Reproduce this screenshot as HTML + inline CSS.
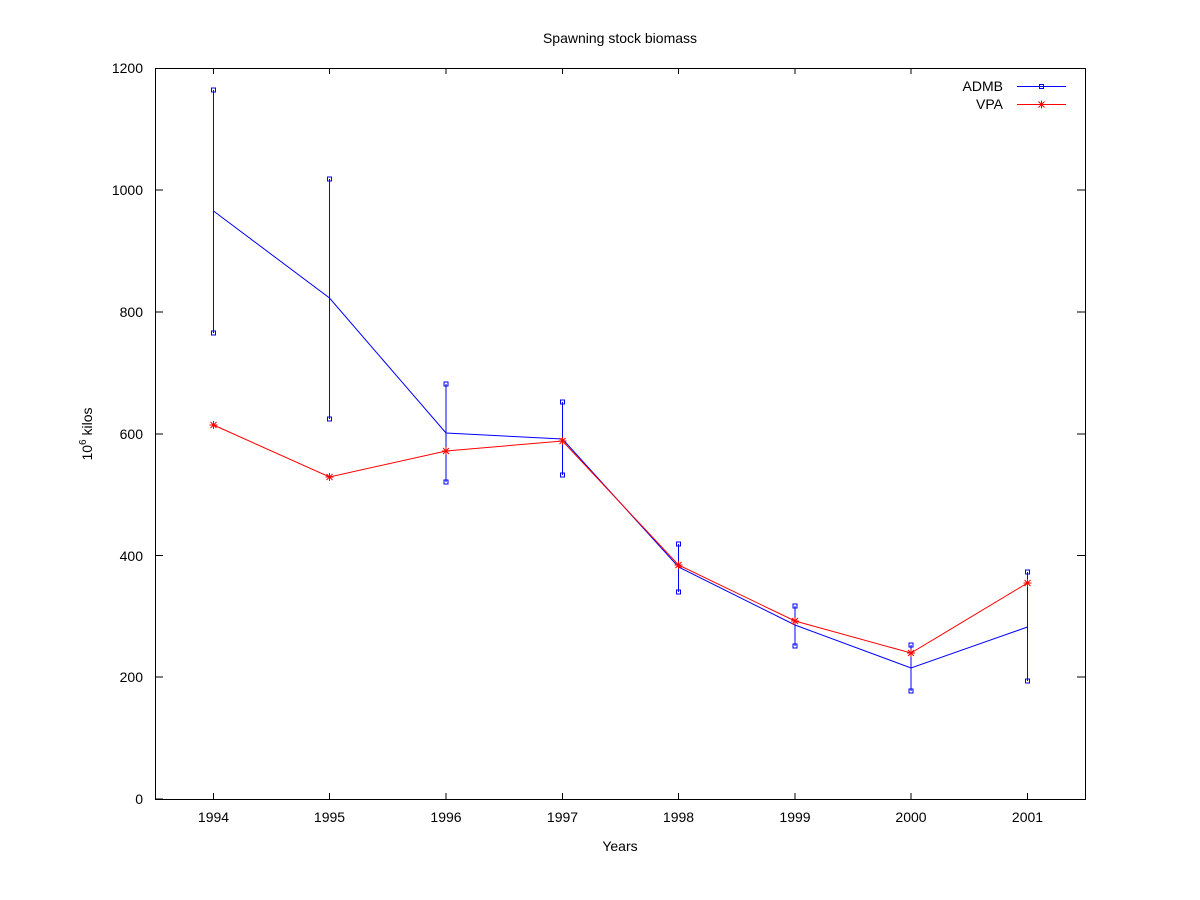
<!DOCTYPE html>
<html><head><meta charset="utf-8"><style>body{margin:0;background:#fff}svg{display:block}text{font-family:"Liberation Sans",sans-serif;font-size:14px;fill:#000}</style></head><body>
<svg width="1200" height="900" viewBox="0 0 1200 900">
<rect x="155.5" y="68.5" width="930" height="731" fill="none" stroke="#000"/>
<g stroke="#000">
<path d="M155 799h8M155 677h8M155 555.5h8M155 434h8M155 312h8M155 190h8M155 68.5h8M1085 677h-8M1085 555.5h-8M1085 434h-8M1085 312h-8M1085 190h-8"/>
<path d="M213.5 799v-6M329.5 799v-6M446 799v-6M562.5 799v-6M678.5 799v-6M795 799v-6M911 799v-6M1027.5 799v-6M213.5 68v6M329.5 68v6M446 68v6M562.5 68v6M678.5 68v6M795 68v6M911 68v6"/>
</g>
<g text-anchor="end">
<text x="143" y="804">0</text><text x="143" y="682">200</text><text x="143" y="561">400</text><text x="143" y="439">600</text><text x="143" y="317">800</text><text x="143" y="195">1000</text><text x="143" y="73">1200</text>
</g>
<g text-anchor="middle">
<text x="213.5" y="822">1994</text><text x="329.5" y="822">1995</text><text x="446" y="822">1996</text><text x="562.5" y="822">1997</text><text x="678.5" y="822">1998</text><text x="795" y="822">1999</text><text x="911" y="822">2000</text><text x="1027.5" y="822">2001</text>
<text x="620" y="851">Years</text>
<text x="620" y="43">Spawning stock biomass</text>
</g>
<text transform="translate(92,434) rotate(-90)" text-anchor="middle">10<tspan dy="-6" font-size="10">6</tspan><tspan dy="6"> kilos</tspan></text>
<g stroke="#00f" fill="none">
<path d="M213.5 90v243M329.5 179v240M446 384v98M562.5 402v73M678.5 544v48M795 606v40M911 645v46M1027.5 572v109"/>
<polyline points="213.5,211 329.5,298 446,433 562.5,439 678.5,567 795,625 911,668 1027.5,627"/>
<g>
<rect x="211.5" y="88" width="4" height="4"/><rect x="211.5" y="331" width="4" height="4"/>
<rect x="327.5" y="177" width="4" height="4"/><rect x="327.5" y="417" width="4" height="4"/>
<rect x="444" y="382" width="4" height="4"/><rect x="444" y="480" width="4" height="4"/>
<rect x="560.5" y="400" width="4" height="4"/><rect x="560.5" y="473" width="4" height="4"/>
<rect x="676.5" y="542" width="4" height="4"/><rect x="676.5" y="590" width="4" height="4"/>
<rect x="793" y="604" width="4" height="4"/><rect x="793" y="644" width="4" height="4"/>
<rect x="909" y="643" width="4" height="4"/><rect x="909" y="689" width="4" height="4"/>
<rect x="1025.5" y="570" width="4" height="4"/><rect x="1025.5" y="679" width="4" height="4"/>
</g>
<path d="M1017 86.5h49"/><rect x="1039.5" y="84.5" width="4" height="4"/>
</g>
<g stroke="#f00" fill="none">
<polyline points="213.5,425 329.5,477 446,451 562.5,441 678.5,565 795,621 911,653 1027.5,583"/>
<path d="M1017 104.5h49"/>
</g>
<g stroke="#f00" id="ast">
<path d="M209.5 425h8M213.5 421v8M210.5 422l6 6M216.5 422l-6 6"/>
<path d="M325.5 477h8M329.5 473v8M326.5 474l6 6M332.5 474l-6 6"/>
<path d="M442 451h8M446 447v8M443 448l6 6M449 448l-6 6"/>
<path d="M558.5 441h8M562.5 437v8M559.5 438l6 6M565.5 438l-6 6"/>
<path d="M674.5 565h8M678.5 561v8M675.5 562l6 6M681.5 562l-6 6"/>
<path d="M791 621h8M795 617v8M792 618l6 6M798 618l-6 6"/>
<path d="M907 653h8M911 649v8M908 650l6 6M914 650l-6 6"/>
<path d="M1023.5 583h8M1027.5 579v8M1024.5 580l6 6M1030.5 580l-6 6"/>
<path d="M1037.5 104.5h8M1041.5 100.5v8M1038.5 101.5l6 6M1044.5 101.5l-6 6"/>
</g>
<text x="1003" y="91" text-anchor="end">ADMB</text>
<text x="1003" y="109" text-anchor="end">VPA</text>
</svg>
</body></html>
